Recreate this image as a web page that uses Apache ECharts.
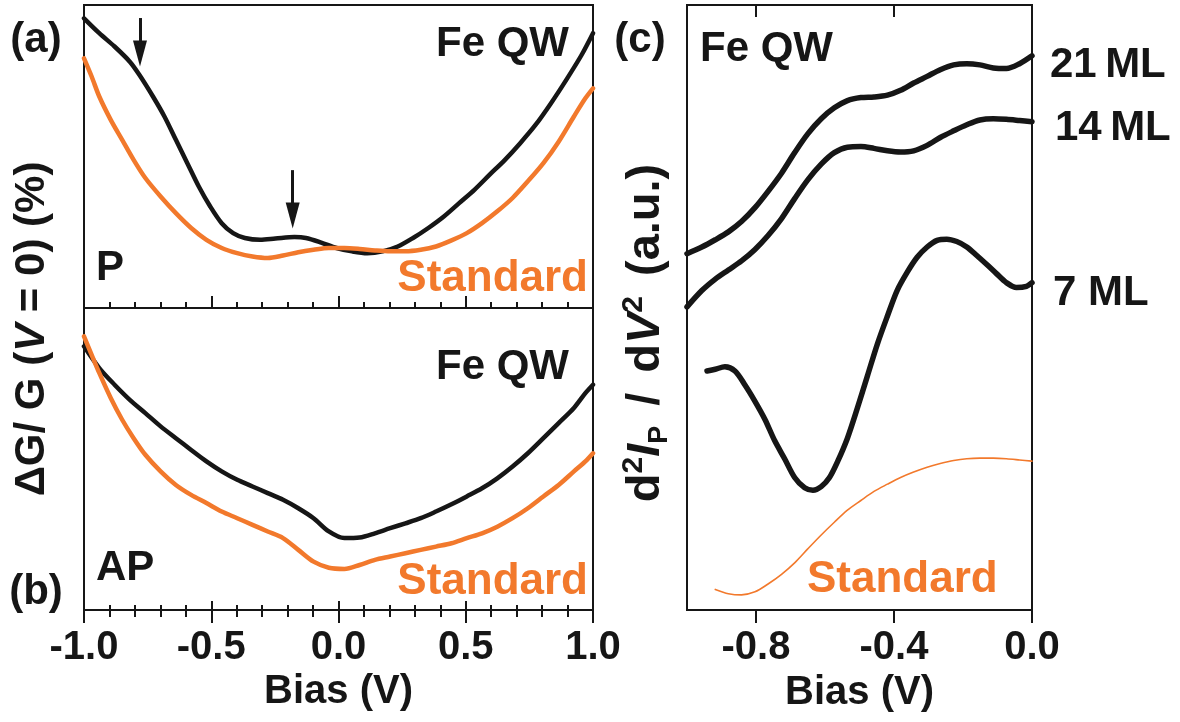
<!DOCTYPE html>
<html>
<head>
<meta charset="utf-8">
<script src="https://cdn.jsdelivr.net/npm/echarts@6/dist/echarts.min.js"></script>
<style>
  html, body { margin: 0; padding: 0; background: #fff; }
  #chart { width: 1180px; height: 722px; }
</style>
</head>
<body>
<div id="chart"></div>
<script>
// ---- (a) parallel (P) configuration: dG/G vs bias, arbitrary vertical units ----
const pFeQW = [
  [-1.000, 95.6], [-0.940, 90.7], [-0.880, 86.3], [-0.820, 81.3], [-0.782, 76.9],
  [-0.729, 69.8], [-0.684, 63.2], [-0.639, 55.5], [-0.594, 47.8], [-0.549, 40.1],
  [-0.504, 33.5], [-0.459, 28.0], [-0.414, 24.7], [-0.368, 23.1], [-0.308, 22.5],
  [-0.248, 22.9], [-0.173, 23.4], [-0.128, 23.1], [-0.068, 21.6], [-0.008, 19.8],
  [0.053, 18.7], [0.113, 18.1], [0.173, 18.7], [0.233, 20.3], [0.293, 23.1],
  [0.353, 26.4], [0.414, 30.2], [0.474, 34.6], [0.534, 39.0], [0.594, 44.0],
  [0.654, 48.9], [0.714, 54.4], [0.774, 60.4], [0.835, 67.6], [0.895, 75.3],
  [0.955, 83.5], [1.000, 90.7]
];
const pStandard = [
  [-1.000, 82.4], [-0.970, 76.4], [-0.940, 69.8], [-0.895, 62.1], [-0.850, 55.5],
  [-0.805, 48.9], [-0.759, 42.9], [-0.699, 36.8], [-0.639, 31.3], [-0.579, 26.4],
  [-0.519, 22.5], [-0.459, 19.8], [-0.398, 18.1], [-0.338, 17.0], [-0.278, 16.5],
  [-0.218, 17.3], [-0.158, 18.4], [-0.098, 19.2], [-0.038, 19.8], [0.023, 19.8],
  [0.083, 19.5], [0.143, 19.0], [0.203, 18.7], [0.263, 18.7], [0.323, 19.2],
  [0.383, 20.3], [0.444, 22.3], [0.504, 24.7], [0.564, 28.0], [0.624, 31.9],
  [0.684, 36.3], [0.744, 41.8], [0.805, 47.8], [0.865, 54.9], [0.925, 63.2],
  [0.970, 69.2], [1.000, 72.5]
];
// arrows marking the Fe QW features: [bias, tail value, head value]
const arrowMarks = [
  [-0.78, 95.7, 84.0],
  [-0.18, 45.5, 30.5]
];

// ---- (b) antiparallel (AP) configuration ----
const apFeQW = [
  [-1.000, 87.3], [-0.940, 80.1], [-0.880, 74.6], [-0.820, 69.6], [-0.759, 65.2],
  [-0.699, 60.8], [-0.639, 56.9], [-0.579, 53.0], [-0.519, 49.2], [-0.459, 45.9],
  [-0.398, 43.1], [-0.338, 40.9], [-0.278, 38.7], [-0.218, 36.5], [-0.158, 33.7],
  [-0.098, 30.4], [-0.038, 26.0], [0.023, 23.8], [0.083, 24.0], [0.143, 25.4],
  [0.203, 27.1], [0.263, 28.7], [0.323, 30.4], [0.383, 32.6], [0.444, 35.0],
  [0.504, 37.6], [0.564, 40.3], [0.624, 43.6], [0.684, 47.5], [0.744, 51.9],
  [0.805, 56.9], [0.865, 61.9], [0.925, 66.9], [0.970, 71.8], [1.000, 74.6]
];
const apStandard = [
  [-1.000, 90.6], [-0.970, 84.5], [-0.940, 78.5], [-0.895, 70.2], [-0.850, 63.0],
  [-0.805, 56.9], [-0.759, 51.4], [-0.699, 45.9], [-0.639, 41.4], [-0.579, 38.1],
  [-0.519, 35.4], [-0.459, 32.6], [-0.398, 30.4], [-0.338, 28.2], [-0.278, 26.0],
  [-0.218, 23.8], [-0.158, 19.9], [-0.098, 16.0], [-0.038, 14.0], [0.023, 13.6],
  [0.083, 14.9], [0.143, 16.6], [0.203, 17.7], [0.263, 18.8], [0.323, 19.9],
  [0.383, 21.0], [0.444, 22.1], [0.504, 23.8], [0.564, 25.4], [0.624, 27.6],
  [0.684, 30.4], [0.744, 33.7], [0.805, 37.6], [0.865, 41.4], [0.925, 45.9],
  [0.970, 49.2], [1.000, 51.9]
];

// ---- (c) d2I/dV2 for several Fe thicknesses ----
const ml21 = [
  [-1.000, 58.9], [-0.957, 60.0], [-0.918, 61.2], [-0.880, 62.5], [-0.842, 64.2],
  [-0.803, 66.5], [-0.765, 69.2], [-0.726, 72.2], [-0.688, 75.6], [-0.650, 78.7],
  [-0.611, 81.2], [-0.573, 83.0], [-0.535, 84.2], [-0.496, 84.7], [-0.458, 84.8],
  [-0.419, 85.1], [-0.381, 85.9], [-0.343, 87.1], [-0.304, 88.2], [-0.266, 89.3],
  [-0.227, 90.1], [-0.189, 90.3], [-0.151, 90.1], [-0.112, 89.6], [-0.074, 89.5],
  [-0.036, 90.3], [0.000, 91.6]
];
const ml14 = [
  [-1.000, 50.1], [-0.957, 52.8], [-0.918, 54.7], [-0.880, 56.2], [-0.842, 57.7],
  [-0.803, 59.6], [-0.765, 61.9], [-0.726, 64.7], [-0.688, 68.0], [-0.650, 71.1],
  [-0.611, 73.7], [-0.573, 75.6], [-0.535, 76.5], [-0.496, 76.6], [-0.458, 76.3],
  [-0.419, 75.9], [-0.381, 75.7], [-0.343, 75.9], [-0.304, 76.8], [-0.266, 78.1],
  [-0.227, 79.2], [-0.189, 80.2], [-0.151, 81.0], [-0.112, 81.2], [-0.074, 81.1],
  [-0.036, 80.9], [0.000, 80.7]
];
const ml7 = [
  [-0.942, 39.5], [-0.918, 39.8], [-0.890, 40.2], [-0.861, 39.5], [-0.832, 37.2],
  [-0.803, 34.5], [-0.774, 31.5], [-0.746, 28.0], [-0.717, 25.0], [-0.688, 21.9],
  [-0.659, 20.2], [-0.635, 19.8], [-0.611, 20.4], [-0.587, 21.9], [-0.563, 24.6],
  [-0.535, 28.4], [-0.506, 33.4], [-0.477, 38.7], [-0.448, 44.0], [-0.419, 48.6],
  [-0.391, 52.8], [-0.362, 55.8], [-0.333, 58.3], [-0.304, 60.0], [-0.275, 61.1],
  [-0.247, 61.3], [-0.218, 60.9], [-0.189, 60.0], [-0.160, 58.6], [-0.131, 57.1],
  [-0.103, 55.6], [-0.074, 54.1], [-0.045, 53.3], [-0.016, 53.5], [0.000, 54.1]
];
const cStandard = [
  [-0.918, 3.4], [-0.880, 2.7], [-0.842, 2.5], [-0.803, 3.0], [-0.765, 4.3],
  [-0.726, 5.9], [-0.688, 7.8], [-0.650, 10.1], [-0.611, 12.4], [-0.573, 14.5],
  [-0.535, 16.5], [-0.496, 18.1], [-0.458, 19.6], [-0.419, 20.8], [-0.381, 21.9],
  [-0.343, 22.8], [-0.304, 23.6], [-0.266, 24.2], [-0.227, 24.7], [-0.189, 25.0],
  [-0.151, 25.1], [-0.112, 25.1], [-0.074, 25.0], [-0.036, 24.8], [0.000, 24.6]
];

// tick values
const biasTicksAB = { min: -1.0, max: 1.0, interval: 0.5 };
const biasTicksC = [-0.8, -0.4, 0.0];
const biasTopTicksC = [-0.8, -0.4];

const INK = '#161616';
const ORANGE = '#f2792c';
const FONT = '"Liberation Sans", Arial, Helvetica, sans-serif';

function tickAxis(gridIndex, position, inside, major, minor, withLabels) {
  return {
    type: 'value', gridIndex, position,
    min: biasTicksAB.min, max: biasTicksAB.max, interval: biasTicksAB.interval,
    axisLine: { show: false },
    splitLine: { show: false },
    axisTick: { show: true, inside, length: major, lineStyle: { color: INK, width: 2 } },
    minorTick: { show: true, splitNumber: 5, length: minor, lineStyle: { color: INK, width: 2 } },
    minorSplitLine: { show: false },
    axisLabel: withLabels ? {
      show: true, margin: 18, color: INK, fontFamily: FONT, fontWeight: 'bold', fontSize: 40,
      formatter: v => v.toFixed(1)
    } : { show: false },
    name: withLabels ? 'Bias (V)' : '',
    nameLocation: 'middle', nameGap: 62,
    nameTextStyle: { color: INK, fontFamily: FONT, fontWeight: 'bold', fontSize: 40 }
  };
}

function lineSeries(data, xi, yi, color, width, extra) {
  return Object.assign({
    type: 'line', data, xAxisIndex: xi, yAxisIndex: yi,
    showSymbol: false, symbol: 'none', smooth: 0.3, silent: true,
    lineStyle: { color, width, cap: 'round', join: 'round' },
    animation: false
  }, extra || {});
}

function label(text, x, y, align, color, size) {
  return {
    type: 'text', x, y, silent: true,
    style: {
      text, fill: color || INK, align: align || 'left', verticalAlign: 'middle',
      fontFamily: FONT, fontWeight: 'bold', fontSize: size || 42
    }
  };
}

const option = {
  backgroundColor: '#fff',
  animation: false,
  grid: [
    { left: 84, top: 5, width: 509, height: 303, show: true, borderColor: INK, borderWidth: 2 },
    { left: 84, top: 308, width: 509, height: 302, show: true, borderColor: INK, borderWidth: 2 },
    { left: 687, top: 5, width: 345, height: 605, show: true, borderColor: INK, borderWidth: 2 }
  ],
  xAxis: [
    tickAxis(0, 'bottom', true, 12, 6, false),
    tickAxis(1, 'top', true, 10, 5, false),
    tickAxis(1, 'bottom', false, 13, 7, true),
    tickAxis(1, 'bottom', true, 9, 5, false),
    {
      type: 'value', gridIndex: 2, position: 'bottom', min: -1.0, max: 0.0,
      axisLine: { show: false }, splitLine: { show: false },
      axisTick: { show: true, inside: false, length: 13, customValues: biasTicksC,
                  lineStyle: { color: INK, width: 2 } },
      axisLabel: { show: true, margin: 18, customValues: biasTicksC, color: INK,
                   fontFamily: FONT, fontWeight: 'bold', fontSize: 40,
                   formatter: v => v.toFixed(1) },
      name: 'Bias (V)', nameLocation: 'middle', nameGap: 62,
      nameTextStyle: { color: INK, fontFamily: FONT, fontWeight: 'bold', fontSize: 40 }
    },
    {
      type: 'value', gridIndex: 2, position: 'top', min: -1.0, max: 0.0,
      axisLine: { show: false }, splitLine: { show: false },
      axisTick: { show: true, inside: true, length: 12, customValues: biasTopTicksC,
                  lineStyle: { color: INK, width: 2 } },
      axisLabel: { show: false }
    }
  ],
  yAxis: [
    { type: 'value', gridIndex: 0, min: 0, max: 100, show: false },
    { type: 'value', gridIndex: 1, min: 0, max: 100, show: false },
    { type: 'value', gridIndex: 2, min: 0, max: 100, show: false }
  ],
  series: [
    lineSeries(pFeQW, 0, 0, INK, 4.5, {
      markLine: {
        silent: true, animation: false,
        symbol: ['none', 'triangle'], symbolSize: [14, 26],
        lineStyle: { color: INK, width: 3, type: 'solid' },
        label: { show: false },
        data: arrowMarks.map(a => [{ coord: [a[0], a[1]] }, { coord: [a[0], a[2]] }])
      }
    }),
    lineSeries(pStandard, 0, 0, ORANGE, 4.5),
    lineSeries(apFeQW, 2, 1, INK, 4.5),
    lineSeries(apStandard, 2, 1, ORANGE, 4.5),
    lineSeries(ml21, 4, 2, INK, 5.5),
    lineSeries(ml14, 4, 2, INK, 5.5),
    lineSeries(ml7, 4, 2, INK, 5.5),
    lineSeries(cStandard, 4, 2, ORANGE, 1.6)
  ],
  graphic: [
    label('(a)', 36, 40, 'center'),
    label('(b)', 36, 592, 'center'),
    label('(c)', 640, 40, 'center'),
    label('Fe QW', 569, 44, 'right'),
    label('P', 96, 268, 'left'),
    label('Standard', 588, 279, 'right', ORANGE, 44),
    label('Fe QW', 569, 367, 'right'),
    label('AP', 96, 568, 'left'),
    label('Standard', 588, 582, 'right', ORANGE, 44),
    label('Fe QW', 700, 49, 'left'),
    label('21\u2009ML', 1050, 65, 'left'),
    label('14\u2009ML', 1055, 128, 'left'),
    label('7 ML', 1053, 293, 'left'),
    label('Standard', 807, 580, 'left', ORANGE, 44),
    {
      type: 'text', x: 32, y: 329, rotation: Math.PI / 2, silent: true,
      style: {
        text: '{n|\u0394G/ G (}{i|V}{n| = 0) (%)}',
        align: 'center', verticalAlign: 'middle',
        rich: {
          n: { fill: INK, fontFamily: FONT, fontWeight: 'bold', fontSize: 42 },
          i: { fill: INK, fontFamily: FONT, fontWeight: 'bold', fontStyle: 'italic', fontSize: 42 }
        }
      }
    },
    {
      type: 'text', x: 646, y: 333, rotation: Math.PI / 2, silent: true,
      style: {
        text: '{n|d}{sup|2}{i|I}{sub|P}{sl|/}{n|d}{i|V}{sup|2}{gap|(a.u.)}',
        align: 'center', verticalAlign: 'middle',
        rich: {
          n: { fill: INK, fontFamily: FONT, fontWeight: 'bold', fontSize: 47, lineHeight: 54 },
          i: { fill: INK, fontFamily: FONT, fontWeight: 'bold', fontStyle: 'italic', fontSize: 47, lineHeight: 54 },
          sl: { fill: INK, fontFamily: FONT, fontWeight: 'bold', fontSize: 47, lineHeight: 54, padding: [0, 20, 0, 20] },
          gap: { fill: INK, fontFamily: FONT, fontWeight: 'bold', fontSize: 47, lineHeight: 54, padding: [0, 0, 0, 20] },
          sup: { fill: INK, fontFamily: FONT, fontWeight: 'bold', fontSize: 30, verticalAlign: 'top', lineHeight: 34 },
          sub: { fill: INK, fontFamily: FONT, fontWeight: 'bold', fontSize: 27, verticalAlign: 'bottom', lineHeight: 30 }
        }
      }
    }
  ]
};

const chart = echarts.init(document.getElementById('chart'), null, { renderer: 'canvas' });
chart.setOption(option);
</script>
</body>
</html>
